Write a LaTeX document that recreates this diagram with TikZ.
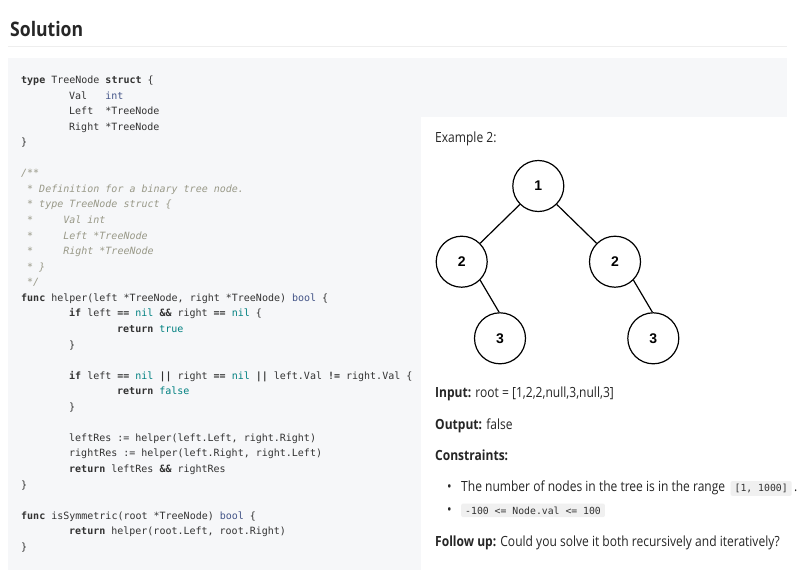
\documentclass[tikz,border=0pt]{standalone}
\usepackage{fontspec}
\usetikzlibrary{calc}
\setmainfont{Open Sans}
\newfontfamily\uifont{Open Sans}[FakeStretch=0.86]
\newfontfamily\titlefont{Open Sans}[FakeStretch=0.88]
\newfontfamily\codefont{DejaVu Sans Mono}
\newfontfamily\nodefont{Liberation Sans}
\definecolor{codebg}{HTML}{F6F7F9}
\definecolor{rulecol}{HTML}{EEEEEE}
\definecolor{txtcol}{HTML}{333333}
\definecolor{tycol}{HTML}{445588}
\definecolor{litcol}{HTML}{008080}
\definecolor{cmtcol}{HTML}{999988}
\definecolor{uicol}{HTML}{262626}
\definecolor{inlinebg}{HTML}{F0F0F0}
\newcommand\kw[1]{\textbf{#1}}
\newcommand\ty[1]{\textcolor{tycol}{#1}}
\newcommand\lt[1]{\textcolor{litcol}{#1}}
\tikzset{
  codeline/.style={anchor=base west, inner sep=0pt, text=txtcol,
    font=\codefont\fontsize{10pt}{12pt}\selectfont},
  cmtline/.style={codeline, text=cmtcol, font=\codefont\itshape\fontsize{10pt}{12pt}\selectfont},
  uitext/.style={anchor=base west, inner sep=0pt, text=uicol,
    font=\uifont\fontsize{14pt}{17pt}\selectfont},
  inlinecode/.style={anchor=base west, inner xsep=4pt, inner ysep=3pt, fill=inlinebg,
    rounded corners=2pt, text=txtcol, font=\codefont\fontsize{9.8pt}{11pt}\selectfont},
  treenode/.style={circle, draw=black, line width=1.2pt, minimum size=51pt, inner sep=0pt,
    font=\nodefont\bfseries\fontsize{14pt}{16pt}\selectfont},
  treeedge/.style={draw=black, line width=1.2pt}
}
\begin{document}
\begin{tikzpicture}[x=1pt,y=-1pt]
\useasboundingbox (0,0) rectangle (800,570);
\fill[white] (0,0) rectangle (800,570);
% title
\node[anchor=base west, inner sep=0pt, text=black!85,
  font=\titlefont\bfseries\fontsize{20pt}{24pt}\selectfont] (title) at (10,36) {Solution};
\coordinate (ruleA) at (8,46);
\coordinate (ruleB) at (787,46);
\draw[rulecol, line width=1pt] (ruleA) -- (ruleB);
% code block
\fill[codebg] (8,58) rectangle (787,570);
\fill[white] (421,117) rectangle (800,570);
% code lines: x = 21 + 6*col, baseline = 83.5 + 15.56*line
\node[codeline] (c0) at (21,83.5) {\kw{type} TreeNode \kw{struct} \{};
\node[codeline] (c1) at (69,99.06) {Val\ \ \ \ty{int}};
\node[codeline] (c2) at (69,114.62) {Left\ \ *TreeNode};
\node[codeline] (c3) at (69,130.18) {Right *TreeNode};
\node[codeline] (c4) at (21,145.74) {\}};
\node[cmtline] (c6) at (21,176.86) {/**};
\node[cmtline] (c7) at (27,192.42) {* Definition for a binary tree node.};
\node[cmtline] (c8) at (27,207.98) {* type TreeNode struct \{};
\node[cmtline] (c9) at (27,223.54) {*\ \ \ \ \ Val int};
\node[cmtline] (c10) at (27,239.10) {*\ \ \ \ \ Left *TreeNode};
\node[cmtline] (c11) at (27,254.66) {*\ \ \ \ \ Right *TreeNode};
\node[cmtline] (c12) at (27,270.22) {* \}};
\node[cmtline] (c13) at (27,285.78) {*/};
\node[codeline] (c14) at (21,301.34) {\kw{func} helper(left *TreeNode, right *TreeNode) \ty{bool} \{};
\node[codeline] (c15) at (69,316.90) {\kw{if} left \kw{==} \lt{nil} \kw{\&\&} right \kw{==} \lt{nil} \{};
\node[codeline] (c16) at (117,332.46) {\kw{return} \lt{true}};
\node[codeline] (c17) at (69,348.02) {\}};
\node[codeline] (c19) at (69,379.14) {\kw{if} left \kw{==} \lt{nil} \kw{||} right \kw{==} \lt{nil} \kw{||} left.Val \kw{!=} right.Val \{};
\node[codeline] (c20) at (117,394.70) {\kw{return} \lt{false}};
\node[codeline] (c21) at (69,410.26) {\}};
\node[codeline] (c23) at (69,441.38) {leftRes := helper(left.Left, right.Right)};
\node[codeline] (c24) at (69,456.94) {rightRes := helper(left.Right, right.Left)};
\node[codeline] (c25) at (69,472.50) {\kw{return} leftRes \kw{\&\&} rightRes};
\node[codeline] (c26) at (21,488.06) {\}};
\node[codeline] (c28) at (21,519.18) {\kw{func} isSymmetric(root *TreeNode) \ty{bool} \{};
\node[codeline] (c29) at (69,534.74) {\kw{return} helper(root.Left, root.Right)};
\node[codeline] (c30) at (21,550.30) {\}};
% right panel
\node[uitext] (ex) at (435,142.3) {Example 2:};
\node[treenode] (n1) at (538.3,186) {1};
\node[treenode] (n2l) at (461.7,261.7) {2};
\node[treenode] (n2r) at (615,261.7) {2};
\node[treenode] (n3l) at (500,338.3) {3};
\node[treenode] (n3r) at (653.3,338.3) {3};
\draw[treeedge] (n1.225) -- (n2l.45);
\draw[treeedge] (n1.-45) -- (n2r.135);
\draw[treeedge] (n2l.-45) -- (n3l.92);
\draw[treeedge] (n2r.-45) -- (n3r.92);
\node[uitext] (inp) at (435,397.3) {\textbf{Input:} root = [1,2,2,null,3,null,3]};
\node[uitext] (outp) at (435,429.3) {\textbf{Output:} false};
\node[uitext] (cons) at (435,460.5) {\textbf{Constraints:}};
\node[uitext] (bul1) at (447,491.5) {\textbullet};
\node[uitext] (b1t) at (461,491.5) {The number of nodes in the tree is in the range};
\node[inlinecode] (b1c) at ($(b1t.base east)+(5,0)$) {[1, 1000]};
\node[uitext] (b1d) at ($(b1c.base east)+(2,0)$) {.};
\node[uitext] (bul2) at (447,514) {\textbullet};
\node[inlinecode] (b2c) at (461,514) {-100 <= Node.val <= 100};
\node[uitext] (fol) at (435,546.5) {\textbf{Follow up:} Could you solve it both recursively and iteratively?};
\end{tikzpicture}
\end{document}
